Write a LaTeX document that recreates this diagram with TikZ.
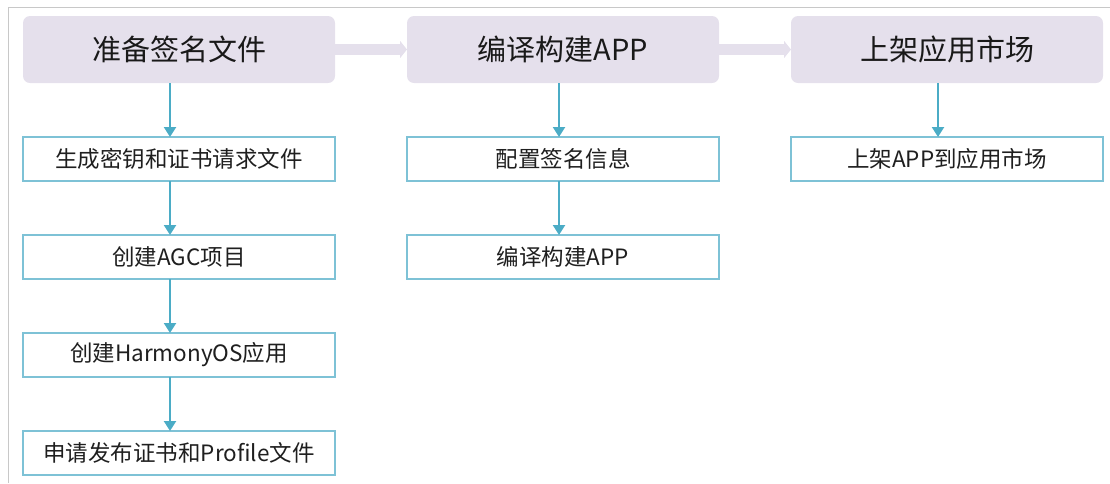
\documentclass[tikz,border=0pt]{standalone}
\usepackage{fontspec}
\setmainfont{Noto Sans CJK SC}
\usetikzlibrary{positioning, arrows.meta}

\definecolor{stagefill}{HTML}{E5E0EC}
\definecolor{flowblue}{HTML}{4BACC6}
\definecolor{boxline}{HTML}{7EC2D6}
\definecolor{framegray}{HTML}{C8C8C8}

\begin{document}
\begin{tikzpicture}[>=Stealth, semithick, node distance=54pt and 72pt,
    stage/.style={rectangle, rounded corners=7pt, fill=stagefill, minimum width=312pt,
      minimum height=67pt, inner sep=0pt, outer sep=0pt, font=\fontsize{29}{33}\selectfont, text=black!90},
    task/.style={rectangle, draw=boxline, line width=1.5pt, fill=white, minimum width=312pt,
      minimum height=44pt, inner sep=0pt, outer sep=0pt, font=\fontsize{22.5}{26}\selectfont, text=black!88},
    flow/.style={->, flowblue, line width=2.2pt, >={Triangle[width=12pt,length=10pt]}},
    band/.style={-{Triangle[width=17pt,length=7pt]}, stagefill, line width=11pt}]
    \useasboundingbox (0,0) rectangle (1110pt,-483pt);
    \draw[framegray, line width=1pt] (8pt,-483pt) |- (1110pt,-7pt);

    % stages
    \node[stage] (sign) at (179pt,-49.5pt) {准备签名文件};
    \node[stage] (build) [right=of sign] {编译构建APP};
    \node[stage] (market) [right=of build] {上架应用市场};

    % steps
    \node[task] (keys) [below=of sign] {生成密钥和证书请求文件};
    \node[task] (agc) [below=of keys] {创建AGC项目};
    \node[task] (app) [below=of agc] {创建HarmonyOS应用};
    \node[task] (cert) [below=of app] {申请发布证书和Profile文件};
    \node[task] (conf) [below=of build] {配置签名信息};
    \node[task] (make) [below=of conf] {编译构建APP};
    \node[task] (pub) [below=of market] {上架APP到应用市场};

    \draw[band] (sign) -- (build);
    \draw[band] (build) -- (market);

    \foreach \a/\b/\dx in {sign/keys/-9, keys/agc/-9, agc/app/-9, app/cert/-9,
                          build/conf/-4, conf/make/-4, market/pub/-9}
      \draw[flow] ([xshift=\dx pt]\a.south) -- ([xshift=\dx pt]\b.north);
\end{tikzpicture}
\end{document}
